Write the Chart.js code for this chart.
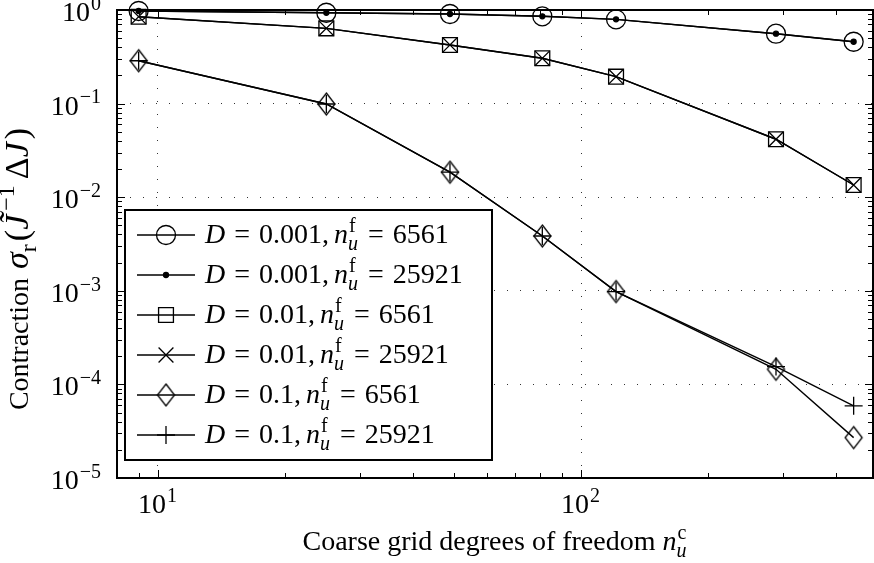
<!DOCTYPE html>
<html>
<head>
<meta charset="utf-8">
<script src="https://cdn.jsdelivr.net/npm/chart.js@4.4.1/dist/chart.umd.min.js"></script>
<style>
  html, body { margin: 0; padding: 0; background: #fff; }
  #wrap { width: 874px; height: 563px; }
</style>
</head>
<body>
<div id="wrap"><canvas id="contraction" width="874" height="563"></canvas></div>
<script>
// coarse grid degrees of freedom
const dof = [9, 25, 49, 81, 121, 289, 441];

// contraction sigma_r for each diffusion / fine grid pair
const sigmaD0001Nf6561 = [0.976, 0.935, 0.906, 0.856, 0.795, 0.558, 0.458];
const sigmaD0001Nf25921 = [0.976, 0.935, 0.906, 0.856, 0.795, 0.558, 0.458];
const sigmaD001Nf6561 = [0.848, 0.637, 0.423, 0.305, 0.194, 0.0416, 0.0135];
const sigmaD001Nf25921 = [0.848, 0.637, 0.423, 0.305, 0.194, 0.0416, 0.0135];
const sigmaD01Nf6561 = [0.287, 0.099, 0.0185, 0.00385, 0.00098, 0.000145, 0.000027];
const sigmaD01Nf25921 = [0.287, 0.099, 0.0185, 0.00385, 0.00098, 0.000155, 0.000059];

const seriesD = ['0.001', '0.001', '0.01', '0.01', '0.1', '0.1'];
const seriesNf = ['6561', '25921', '6561', '25921', '6561', '25921'];

const xTicks = [10, 100];
const yTicks = [1, 0.1, 0.01, 0.001, 0.0001, 0.00001];

const FONT = '"Liberation Serif", "Times New Roman", serif';
const FS = 28;

// matlab style diamond, a bit taller than wide
function diamondMarker(hw, hh) {
    const c = document.createElement('canvas');
    c.width = Math.ceil(hw * 2 + 4);
    c.height = Math.ceil(hh * 2 + 4);
    const g = c.getContext('2d');
    const cx = c.width / 2, cy = c.height / 2;
    g.strokeStyle = '#000';
    g.lineWidth = 1.3;
    g.beginPath();
    g.moveTo(cx, cy - hh);
    g.lineTo(cx + hw, cy);
    g.lineTo(cx, cy + hh);
    g.lineTo(cx - hw, cy);
    g.closePath();
    g.stroke();
    return c;
}

const markers = [
    { style: 'circle', r: 9.5, fill: 'rgba(0,0,0,0)' },
    { style: 'circle', r: 2.5, fill: '#000' },
    { style: 'rect', r: 10.5, fill: 'rgba(0,0,0,0)' },
    { style: 'crossRot', r: 10.5, fill: 'rgba(0,0,0,0)' },
    { style: diamondMarker(8.5, 11), r: 11, fill: 'rgba(0,0,0,0)' },
    { style: 'cross', r: 9, fill: 'rgba(0,0,0,0)' }
];

const values = [sigmaD0001Nf6561, sigmaD0001Nf25921, sigmaD001Nf6561,
                sigmaD001Nf25921, sigmaD01Nf6561, sigmaD01Nf25921];

const datasets = values.map((v, i) => ({
    label: 'D = ' + seriesD[i] + ', n_u^f = ' + seriesNf[i],
    data: dof.map((x, j) => ({ x: x, y: v[j] })),
    borderColor: '#000',
    borderWidth: 1.4,
    pointStyle: markers[i].style,
    pointRadius: markers[i].r,
    pointHoverRadius: markers[i].r,
    pointBorderColor: '#000',
    pointBackgroundColor: markers[i].fill,
    pointBorderWidth: 1.3,
    tension: 0,
    clip: false
}));

// text made of plain / italic pieces, gaps and stacked sub/superscripts
function layoutRuns(ctx, runs, size) {
    const items = [];
    let w = 0;
    runs.forEach(r => {
        const sz = r.size || size;
        const small = Math.round(sz * 0.7);
        if (r.gap) {
            w += r.gap;
        } else if (r.sup !== undefined || r.sub !== undefined) {
            let ws = 0, wb = 0;
            if (r.sup) {
                ctx.font = (r.supIt ? 'italic ' : '') + small + 'px ' + FONT;
                ws = ctx.measureText(r.sup).width + (r.supShift || 0);
                items.push({ t: r.sup, font: ctx.font, x: w + (r.supShift || 0), dy: -sz * 0.40 });
            }
            if (r.sub) {
                ctx.font = (r.subIt ? 'italic ' : '') + small + 'px ' + FONT;
                wb = ctx.measureText(r.sub).width;
                items.push({ t: r.sub, font: ctx.font, x: w, dy: sz * 0.24 });
            }
            w += Math.max(ws, wb) + 1;
        } else {
            ctx.font = (r.it ? 'italic ' : '') + sz + 'px ' + FONT;
            items.push({ t: r.t, font: ctx.font, x: w, dy: 0 });
            w += ctx.measureText(r.t).width;
        }
    });
    return { items: items, width: w };
}

function drawRuns(ctx, runs, size, x, y, align) {
    const lay = layoutRuns(ctx, runs, size);
    let x0 = x;
    if (align === 'right') x0 = x - lay.width;
    if (align === 'center') x0 = x - lay.width / 2;
    ctx.textAlign = 'left';
    ctx.textBaseline = 'alphabetic';
    ctx.fillStyle = '#000';
    lay.items.forEach(it => {
        ctx.font = it.font;
        ctx.fillText(it.t, x0 + it.x, y + it.dy);
    });
}

function powerLabel(v) {
    const e = Math.round(Math.log10(v));
    return [{ t: '10' }, { gap: 1 }, { sup: String(e).replace('-', '\u2212') }];
}

const framePlugin = {
    id: 'frame',
    afterDatasetsDraw(chart) {
        const ctx = chart.ctx;
        const a = chart.chartArea;
        const xs = chart.scales.x, ys = chart.scales.y;
        ctx.save();

        // inward ticks on all four sides
        ctx.strokeStyle = '#000';
        ctx.lineWidth = 1;
        ctx.beginPath();
        for (let e = -5; e <= 2; e++) {
            for (let k = 1; k <= 9; k++) {
                const v = k * Math.pow(10, e);
                const len = k === 1 ? 8 : 5;
                if (v >= xs.min && v <= xs.max && e >= 0) {
                    const px = Math.round(xs.getPixelForValue(v)) + 0.5;
                    ctx.moveTo(px, a.bottom); ctx.lineTo(px, a.bottom - len);
                    ctx.moveTo(px, a.top); ctx.lineTo(px, a.top + len);
                }
                if (v >= ys.min && v <= ys.max) {
                    const py = Math.round(ys.getPixelForValue(v)) + 0.5;
                    ctx.moveTo(a.left, py); ctx.lineTo(a.left + len, py);
                    ctx.moveTo(a.right, py); ctx.lineTo(a.right - len, py);
                }
            }
        }
        ctx.stroke();

        // axes box
        ctx.lineWidth = 2;
        ctx.strokeRect(a.left, a.top, a.right - a.left, a.bottom - a.top);

        // tick labels
        xTicks.forEach(v => drawRuns(ctx, powerLabel(v), FS, xs.getPixelForValue(v), a.bottom + 35, 'center'));
        yTicks.forEach(v => drawRuns(ctx, powerLabel(v), FS, a.left - 15, ys.getPixelForValue(v) + 11, 'right'));

        // axis titles
        drawRuns(ctx, [
            { t: 'Coarse grid degrees of freedom ' },
            { t: 'n', it: true },
            { sup: 'c', sub: 'u', subIt: true, supShift: 1 }
        ], FS, (a.left + a.right) / 2, 550, 'center');

        const m = 34;
        ctx.save();
        ctx.translate(28, 269);
        ctx.rotate(-Math.PI / 2);
        drawRuns(ctx, [
            { t: 'Contraction ' },
            { gap: 2 },
            { t: '\u03c3', it: true, size: m },
            { sub: 'r', size: m },
            { gap: 2 },
            { t: '(', size: m },
            { t: 'J\u0303', it: true, size: m },
            { gap: 3 },
            { sup: '\u22121', supShift: 1, size: m },
            { gap: 5 },
            { t: '\u0394', size: m },
            { t: 'J', it: true, size: m },
            { gap: 3 },
            { t: ')', size: m }
        ], FS, 0, 0, 'center');
        ctx.restore();

        // legend
        const lx = a.left + 8, ly = a.top + 200, lw = 367, lh = 250;
        ctx.fillStyle = '#fff';
        ctx.fillRect(lx, ly, lw, lh);
        ctx.lineWidth = 2;
        ctx.strokeStyle = '#000';
        ctx.strokeRect(lx, ly, lw, lh);
        chart.data.datasets.forEach((ds, i) => {
            const cy = ly + 25 + i * 40;
            ctx.lineWidth = 1.4;
            ctx.beginPath();
            ctx.moveTo(lx + 12, cy);
            ctx.lineTo(lx + 70, cy);
            ctx.stroke();
            ctx.lineWidth = ds.pointBorderWidth;
            ctx.strokeStyle = '#000';
            ctx.fillStyle = ds.pointBackgroundColor;
            Chart.helpers.drawPoint(ctx, {
                pointStyle: ds.pointStyle, radius: ds.pointRadius,
                borderWidth: ds.pointBorderWidth, rotation: 0
            }, lx + 41, cy);
            drawRuns(ctx, [
                { t: 'D', it: true },
                { gap: 9 }, { t: '=' }, { gap: 9 },
                { t: seriesD[i] + ',' },
                { gap: 5 },
                { t: 'n', it: true },
                { sup: 'f', sub: 'u', subIt: true, supShift: 1 },
                { gap: 9 }, { t: '=' }, { gap: 9 },
                { t: seriesNf[i] }
            ], FS, lx + 80, cy + 8, 'left');
        });
        ctx.restore();
    }
};

new Chart(document.getElementById('contraction'), {
    type: 'line',
    data: { datasets: datasets },
    options: {
        responsive: false,
        animation: false,
        events: [],
        layout: { autoPadding: false, padding: { top: 10, right: 1, left: 0, bottom: 0 } },
        plugins: { legend: { display: false }, tooltip: { enabled: false } },
        scales: {
            x: {
                type: 'logarithmic',
                min: 8,
                max: 490,
                ticks: { display: false },
                grid: { color: '#333', lineWidth: 1, drawTicks: false },
                border: { display: false, dash: [1, 12] },
                afterBuildTicks: s => { s.ticks = xTicks.map(v => ({ value: v })); },
                afterFit: s => { s.height = 85; }
            },
            y: {
                type: 'logarithmic',
                min: 0.00001,
                max: 1,
                ticks: { display: false },
                grid: { color: '#333', lineWidth: 1, drawTicks: false },
                border: { display: false, dash: [1, 12] },
                afterBuildTicks: s => { s.ticks = yTicks.map(v => ({ value: v })); },
                afterFit: s => { s.width = 117; }
            }
        }
    },
    plugins: [framePlugin]
});
</script>
</body>
</html>
